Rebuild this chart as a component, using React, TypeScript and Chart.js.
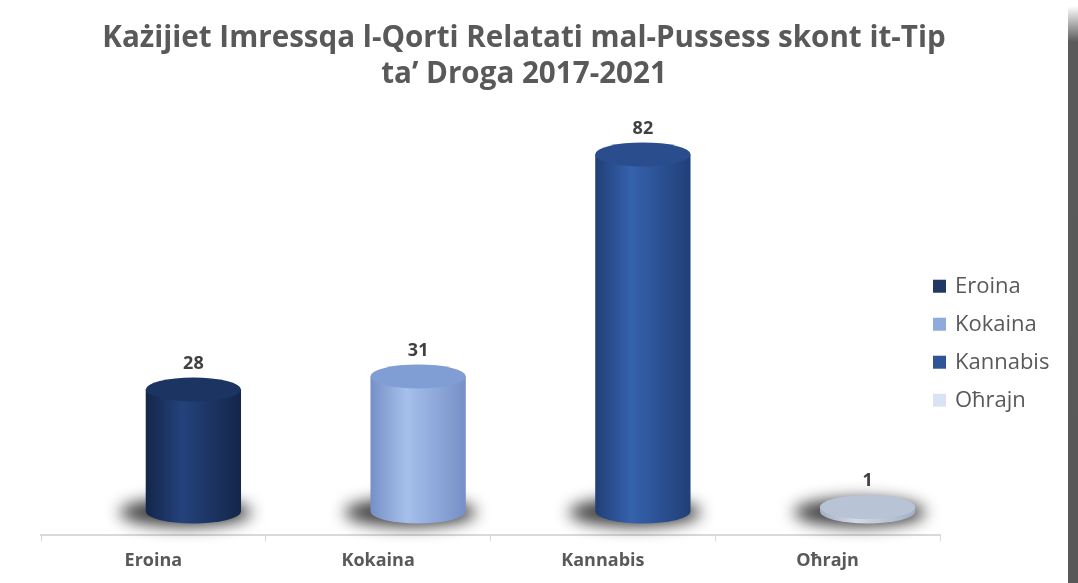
import React, { useEffect, useRef } from "react";
import { Chart, registerables } from "chart.js";

Chart.register(...registerables);

const TITLE_LINES = [
  "Każijiet Imressqa l-Qorti Relatati mal-Pussess skont it-Tip",
  "ta’ Droga 2017-2021",
];
const CATEGORIES = ["Eroina", "Kokaina", "Kannabis", "Oħrajn"];
const CASES = [28, 31, 82, 1];
const Y_MAX = 100;

// styles (not data)
const LEGEND_COLORS = ["#203864", "#8faadc", "#2f5597", "#dae3f3"];
const SHADES = [
  ["#14264a", "#24427c", "#1c3461"],
  ["#7590c6", "#a6c0ec", "#809dd4"],
  ["#213f77", "#3562ad", "#2a4d8e"],
  ["#a3b0c6", "#d2dae6", "#b8c3d5"],
];
const FONT = "'Open Sans', Lato, sans-serif";

const cylinderPlugin = {
  id: "cylinders",
  afterDatasetsDraw(chart: any) {
    const ctx = chart.ctx as CanvasRenderingContext2D;
    const meta = chart.getDatasetMeta(0);
    const dx = 40;
    const dy = -24;
    const ry = 12;
    meta.data.forEach((el: any, i: number) => {
      const { x, y, base, width } = el.getProps(["x", "y", "base", "width"], true);
      const cx = x + dx;
      const top = y + dy;
      const bot = base + dy;
      const rx = width / 2;
      const [edge, light, topc] = SHADES[i];

      // shadow
      ctx.save();
      ctx.filter = "blur(8px)";
      ctx.fillStyle = "rgba(10,10,10,0.8)";
      ctx.beginPath();
      ctx.ellipse(cx - 8, bot + 1, rx + 18, ry + 2, 0, 0, Math.PI * 2);
      ctx.fill();
      ctx.restore();

      // body
      ctx.save();
      const g = ctx.createLinearGradient(cx - rx, 0, cx + rx, 0);
      g.addColorStop(0, edge);
      g.addColorStop(0.38, light);
      g.addColorStop(1, edge);
      ctx.fillStyle = g;
      ctx.beginPath();
      ctx.moveTo(cx - rx, top);
      ctx.lineTo(cx - rx, bot);
      ctx.ellipse(cx, bot, rx, ry, 0, Math.PI, 0, true);
      ctx.lineTo(cx + rx, top);
      ctx.closePath();
      ctx.fill();

      // top face
      ctx.fillStyle = topc;
      ctx.beginPath();
      ctx.ellipse(cx, top, rx, ry, 0, 0, Math.PI * 2);
      ctx.fill();
      ctx.restore();

      // value label
      ctx.save();
      ctx.font = `bold 18px ${FONT}`;
      ctx.fillStyle = "#404040";
      ctx.textAlign = "center";
      ctx.textBaseline = "middle";
      ctx.fillText(String(CASES[i]), cx, top - ry - 14);
      ctx.restore();
    });
  },
};

const legendPlugin = {
  id: "sideLegend",
  afterDraw(chart: any) {
    const ctx = chart.ctx as CanvasRenderingContext2D;
    const { right, top, bottom } = chart.chartArea;
    const bx = right - 7;
    const cy = (top + bottom) / 2 + 26;
    const spacing = 38;
    ctx.save();
    ctx.font = `22px ${FONT}`;
    ctx.textBaseline = "middle";
    ctx.textAlign = "left";
    CATEGORIES.forEach((label, i) => {
      const yy = cy + (i - 1.5) * spacing;
      ctx.fillStyle = LEGEND_COLORS[i];
      ctx.fillRect(bx, yy - 7, 13, 13);
      ctx.fillStyle = "#595959";
      ctx.fillText(label, bx + 22, yy);
    });
    ctx.restore();
  },
};

export default function App() {
  const ref = useRef<HTMLCanvasElement | null>(null);

  useEffect(() => {
    document.body.style.margin = "0";
    const canvas = ref.current;
    if (!canvas) return;
    const chart = new Chart(canvas, {
      type: "bar",
      data: {
        labels: CATEGORIES,
        datasets: [
          {
            label: "Każijiet",
            data: CASES,
            backgroundColor: "rgba(0,0,0,0)",
            borderWidth: 0,
            categoryPercentage: 0.8,
            barPercentage: 0.53,
            yAxisID: "y",
          },
        ],
      },
      options: {
        animation: false,
        responsive: false,
        events: [],
        layout: { padding: { left: 0, right: 18, top: 0, bottom: 2 } },
        plugins: {
          legend: { display: false },
          tooltip: { enabled: false },
          title: {
            display: true,
            text: TITLE_LINES,
            color: "#595959",
            font: { family: FONT, size: 29.6, weight: "bold", lineHeight: 1.2 },
            padding: { top: 21, bottom: 8 },
          },
        },
        scales: {
          x: {
            offset: true,
            grid: {
              display: true,
              drawOnChartArea: false,
              drawTicks: true,
              tickLength: 6,
              color: "#d9d9d9",
              offset: true,
            },
            border: { display: true, color: "#d9d9d9", width: 2 },
            ticks: {
              color: "#595959",
              font: { family: FONT, size: 18, weight: "bold" },
              padding: 9,
            },
          },
          y: {
            display: true,
            position: "left",
            min: 0,
            max: Y_MAX,
            grid: { display: false },
            border: { display: false },
            ticks: { display: false },
            afterFit: (s: any) => {
              s.width = 41;
            },
          },
          yRight: {
            display: true,
            position: "right",
            min: 0,
            max: Y_MAX,
            grid: { display: false },
            border: { display: false },
            ticks: { display: false },
            afterFit: (s: any) => {
              s.width = 108;
            },
          },
        },
      },
      plugins: [cylinderPlugin, legendPlugin],
    });
    return () => chart.destroy();
  }, []);

  return (
    <div style={{ position: "relative", width: 1078, height: 583, background: "#ffffff", overflow: "hidden" }}>
      <canvas ref={ref} width={1066} height={583} style={{ position: "absolute", left: 0, top: 0 }} />
      <div
        style={{
          position: "absolute",
          left: 1068,
          top: 0,
          width: 10,
          height: 583,
          background: "linear-gradient(to bottom, #ffffff 0px, #ffffff 6px, #5a5a5a 42px, #585858 100%)",
        }}
      />
    </div>
  );
}
